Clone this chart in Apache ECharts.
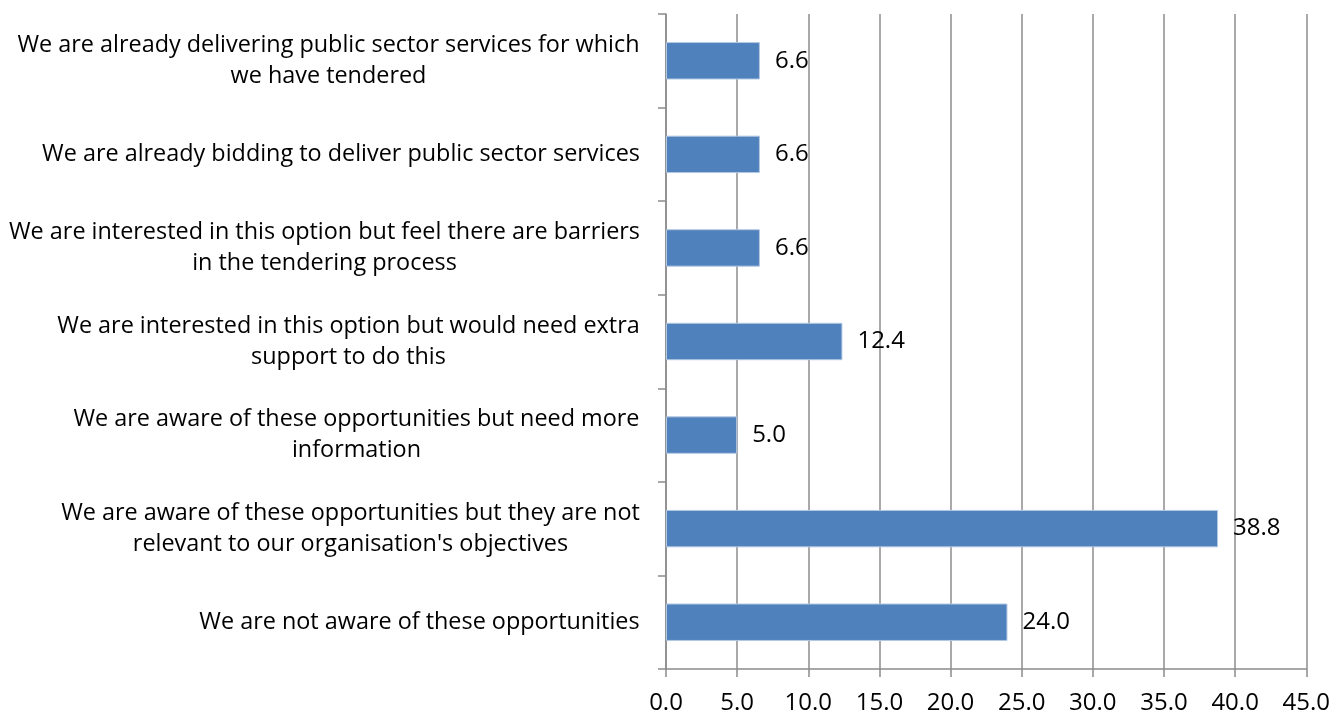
<!DOCTYPE html>
<html>
<head>
<meta charset="utf-8">
<script src="https://cdn.jsdelivr.net/npm/echarts@6/dist/echarts.min.js"></script>
<style>
  html, body { margin: 0; padding: 0; background: #fff; }
  #chart { width: 1333px; height: 715px; }
</style>
</head>
<body>
<div id="chart"></div>
<script>
// Survey responses, listed top to bottom
const categories = [
  "We are already delivering public sector services for which\nwe have tendered",
  "We are already bidding to deliver public sector services",
  "We are interested in this option but feel there are barriers\nin the tendering process",
  "We are interested in this option but would need extra\nsupport to do this",
  "We are aware of these opportunities but need more\ninformation",
  "We are aware of these opportunities but they are not\nrelevant to our organisation's objectives",
  "We are not aware of these opportunities"
];
const percentages = [6.6, 6.6, 6.6, 12.4, 5.0, 38.8, 24.0];
const axisMin = 0;
const axisMax = 45;
const axisStep = 5;

const FONT = '"Open Sans", "Liberation Sans", sans-serif';
const FS = 23.4;
const NUM_FS = 24;

// Each multi-line label is centred line by line, with the block right-aligned to the axis
const ctx = document.createElement('canvas').getContext('2d');
ctx.font = FS + 'px ' + FONT;
const rich = {};
categories.forEach((c, i) => {
  const w = Math.max(...c.split('\n').map(l => ctx.measureText(l).width));
  rich['c' + i] = { width: Math.ceil(w), align: 'center', fontSize: FS, fontFamily: FONT, color: '#000', lineHeight: 31 };
});

const chart = echarts.init(document.getElementById('chart'), null, { renderer: 'canvas' });
chart.setOption({
  animation: false,
  grid: { left: 666, right: 25, top: 14, bottom: 44, containLabel: false },
  xAxis: {
    type: 'value',
    min: axisMin,
    max: axisMax,
    interval: axisStep,
    axisLine: { show: true, lineStyle: { color: '#8c8c8c', width: 1.5 } },
    axisTick: { show: true, length: 8, lineStyle: { color: '#8c8c8c', width: 1.5 } },
    splitLine: { show: true, lineStyle: { color: '#8c8c8c', width: 1.5 } },
    axisLabel: {
      margin: 22,
      fontSize: NUM_FS,
      fontFamily: FONT,
      color: '#000',
      formatter: v => v.toFixed(1)
    }
  },
  yAxis: {
    type: 'category',
    inverse: true,
    data: categories,
    axisLine: { show: true, lineStyle: { color: '#8c8c8c', width: 1.5 } },
    axisTick: { show: true, length: 8, lineStyle: { color: '#8c8c8c', width: 1.5 } },
    splitLine: { show: false },
    axisLabel: {
      margin: 26,
      interval: 0,
      align: 'right',
      formatter: (value, idx) => value.split('\n').map(l => '{c' + idx + '|' + l + '}').join('\n'),
      rich: rich
    }
  },
  series: [{
    type: 'bar',
    data: percentages,
    barCategoryGap: '60%',
    itemStyle: { color: '#4f81bd', borderColor: '#b3c8e3', borderWidth: 1 },
    label: {
      show: true,
      position: 'right',
      distance: 15,
      fontSize: NUM_FS,
      fontFamily: FONT,
      color: '#000',
      formatter: p => p.value.toFixed(1)
    }
  }]
});
</script>
</body>
</html>
